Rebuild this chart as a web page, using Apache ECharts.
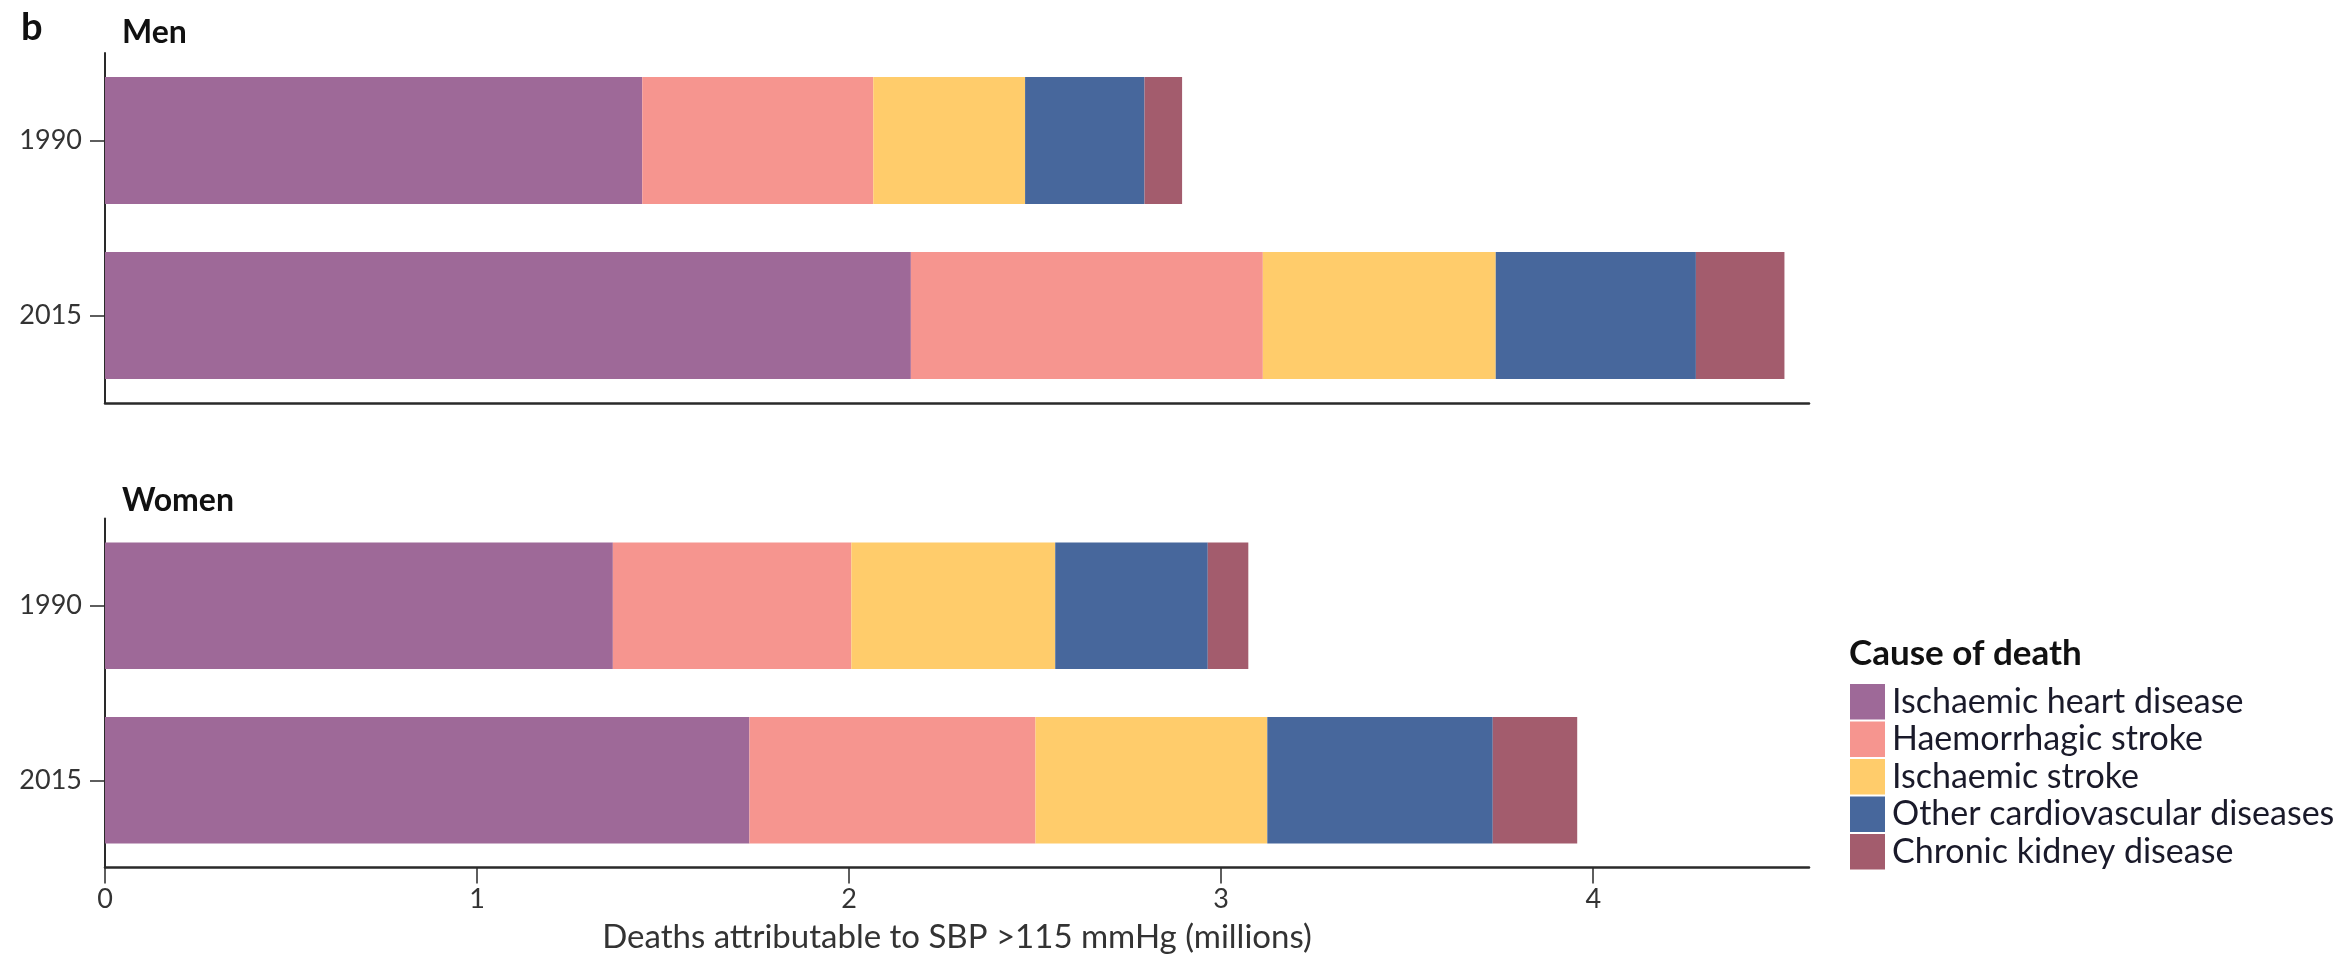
<!DOCTYPE html>
<html>
<head>
<meta charset="utf-8">
<script src="https://cdn.jsdelivr.net/npm/echarts@6/dist/echarts.min.js"></script>
<style>
html,body{margin:0;padding:0;background:#fff;}
#chart{width:2341px;height:955px;}
</style>
</head>
<body>
<div id="chart"></div>
<script>
var categories = ['1990', '2015'];
var causes = ['Ischaemic heart disease', 'Haemorrhagic stroke', 'Ischaemic stroke', 'Other cardiovascular diseases', 'Chronic kidney disease'];
var colors = ['#9E6998', '#F6958F', '#FFCC6B', '#47679C', '#A35C6D'];
var xTicks = [0, 1, 2, 3, 4];

var menIHD = [1.444, 2.166];
var menHS = [0.621, 0.946];
var menIS = [0.408, 0.626];
var menOther = [0.321, 0.538];
var menCKD = [0.101, 0.238];

var womenIHD = [1.365, 1.732];
var womenHS = [0.641, 0.769];
var womenIS = [0.548, 0.623];
var womenOther = [0.410, 0.606];
var womenCKD = [0.109, 0.227];

var menData = [menIHD, menHS, menIS, menOther, menCKD];
var womenData = [womenIHD, womenHS, womenIS, womenOther, womenCKD];

var FONT = 'Lato, "Open Sans", sans-serif';
var axisColor = '#2a2a2a';
var xMax = 4.58;

function xAxisCfg(gridIndex, showLabels) {
  return {
    type: 'value', gridIndex: gridIndex, min: 0, max: xMax, interval: 1,
    axisLine: {show: true, onZero: false, lineStyle: {color: axisColor, width: 2.5}},
    axisTick: {show: showLabels, length: 16, lineStyle: {color: axisColor, width: 1.5}},
    axisLabel: {show: showLabels, margin: 18, fontSize: 27, color: '#333', fontFamily: FONT,
      showMaxLabel: false,
      formatter: function (v) { return xTicks.indexOf(v) >= 0 ? String(v) : ''; }},
    splitLine: {show: false},
    name: showLabels ? 'Deaths attributable to SBP >115 mmHg (millions)' : '',
    nameLocation: 'middle', nameGap: 53,
    nameTextStyle: {fontSize: 33, color: '#333', fontFamily: FONT}
  };
}
function yAxisCfg(gridIndex) {
  return {
    type: 'category', gridIndex: gridIndex, data: categories, inverse: true,
    axisLine: {show: true, lineStyle: {color: axisColor, width: 2}},
    axisTick: {show: true, alignWithLabel: true, length: 15, lineStyle: {color: axisColor, width: 1.5}},
    axisLabel: {margin: 23, fontSize: 27, color: '#333', fontFamily: FONT}
  };
}

var series = [];
[menData, womenData].forEach(function (group, gi) {
  group.forEach(function (vals, ci) {
    series.push({
      type: 'bar', name: causes[ci], stack: 'g' + gi,
      xAxisIndex: gi, yAxisIndex: gi,
      data: vals, barCategoryGap: '27.5%',
      itemStyle: {color: colors[ci]},
      emphasis: {disabled: true}
    });
  });
});

var chart = echarts.init(document.getElementById('chart'), null, {renderer: 'canvas'});
chart.setOption({
  animation: false,
  backgroundColor: '#fff',
  title: [
    {text: 'b', left: 16, top: 4, textStyle: {fontSize: 38, fontWeight: 'bold', color: '#111', fontFamily: FONT}},
    {text: 'Men', left: 117, top: 12, textStyle: {fontSize: 32, fontWeight: 'bold', color: '#111', fontFamily: FONT}},
    {text: 'Women', left: 117, top: 480, textStyle: {fontSize: 32, fontWeight: 'bold', color: '#111', fontFamily: FONT}},
    {text: 'Cause of death', left: 1844, top: 631, textStyle: {fontSize: 35, fontWeight: 'bold', color: '#111', fontFamily: FONT}}
  ],
  legend: {
    orient: 'vertical', left: 1845, top: 679,
    data: causes, icon: 'rect', itemWidth: 35, itemHeight: 35.5, itemGap: 2,
    textStyle: {fontSize: 34, color: '#1a1a2a', fontFamily: FONT, padding: [0, 0, 0, 2]},
    selectedMode: false
  },
  grid: [
    {left: 105, right: 532, top: 53, height: 350},
    {left: 105, right: 532, top: 518.5, height: 349}
  ],
  xAxis: [xAxisCfg(0, false), xAxisCfg(1, true)],
  yAxis: [yAxisCfg(0), yAxisCfg(1)],
  series: series
});
</script>
</body>
</html>
